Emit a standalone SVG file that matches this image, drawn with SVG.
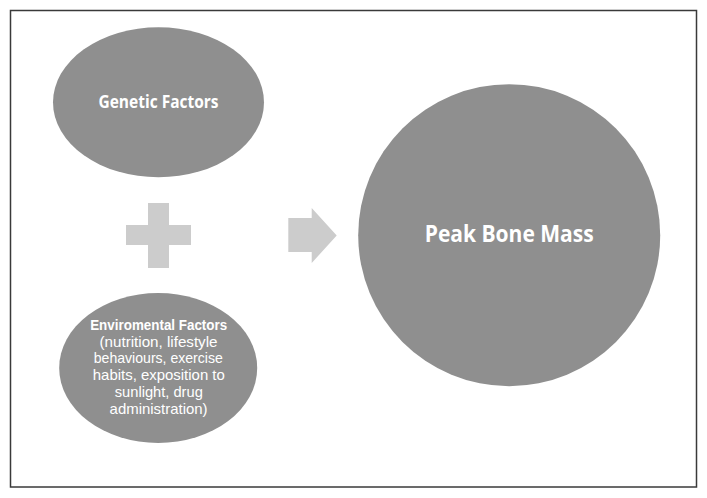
<svg xmlns="http://www.w3.org/2000/svg" width="707" height="498" viewBox="0 0 707 498">
<style>
.node{fill:#8f8f8f}
.sym{fill:#cccccc}
.t{font-family:"Open Sans","Liberation Sans",sans-serif;fill:#ffffff;text-anchor:middle}
.e{font-family:"Liberation Sans",Arial,sans-serif;fill:#ffffff;text-anchor:middle;font-size:14.2px}
.b{font-weight:bold}
</style>
<rect x="0" y="0" width="707" height="498" fill="#ffffff"/>
<rect x="10.5" y="10.5" width="686" height="476.5" fill="none" stroke="#3a3a3a" stroke-width="1.5"/>
<g id="genetic">
<ellipse class="node" cx="158.5" cy="102.3" rx="105.5" ry="75"/>
<text class="t b" x="158.5" y="108.3" font-size="17" textLength="120" lengthAdjust="spacingAndGlyphs">Genetic Factors</text>
</g>
<g id="environmental">
<ellipse class="node" cx="158.2" cy="368" rx="99" ry="75"/>
<text class="e b" x="158.7" y="330" textLength="137" lengthAdjust="spacingAndGlyphs">Enviromental Factors</text>
<text class="e" x="158.5" y="346.7" textLength="118" lengthAdjust="spacingAndGlyphs">(nutrition, lifestyle</text>
<text class="e" x="158.3" y="363.4" textLength="129" lengthAdjust="spacingAndGlyphs">behaviours, exercise</text>
<text class="e" x="158.8" y="380.1" textLength="132" lengthAdjust="spacingAndGlyphs">habits, exposition to</text>
<text class="e" x="158.8" y="396.8" textLength="88" lengthAdjust="spacingAndGlyphs">sunlight, drug</text>
<text class="e" x="158.6" y="413.5" textLength="98" lengthAdjust="spacingAndGlyphs">administration)</text>
</g>
<g id="peak">
<circle class="node" cx="509.2" cy="235.2" r="151"/>
<text class="t b" x="509.2" y="242.3" font-size="23" textLength="169" lengthAdjust="spacingAndGlyphs">Peak Bone Mass</text>
</g>
<g id="plus">
<path class="sym" d="M148 203H169V225H191V245H169V268H148V245H126V225H148Z"/>
</g>
<g id="connectors">
<path class="sym" d="M288.3 218H311.7V208L336.7 235.5L311.7 263V252H288.3Z"/>
</g>
</svg>
